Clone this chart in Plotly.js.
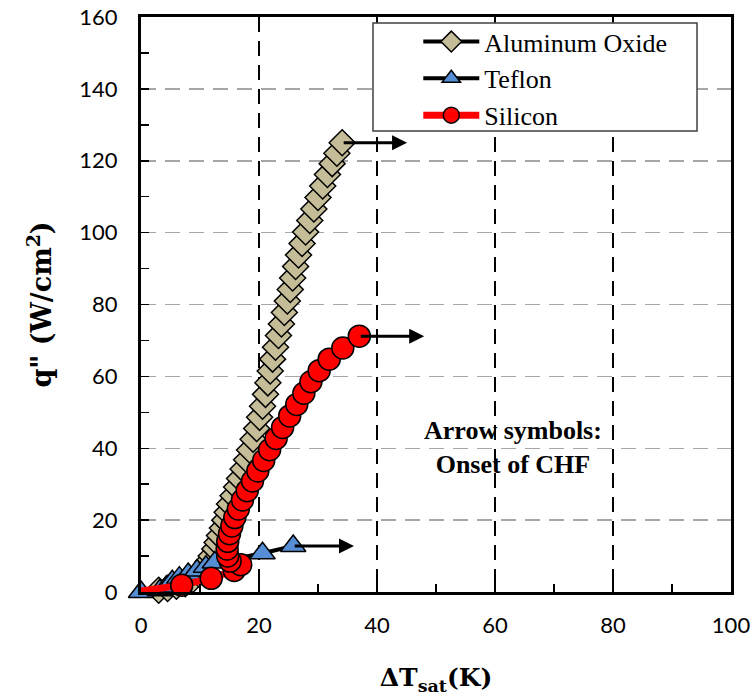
<!DOCTYPE html>
<html>
<head>
<meta charset="utf-8">
<script src="https://cdn.plot.ly/plotly-3.0.1.min.js"></script>
<style>html,body{margin:0;padding:0;background:#fff;}#chart{width:754px;height:700px;}</style>
</head>
<body>
<div id="chart"></div>
<script>
// ---- Data ----
const aluminaX = [3, 4.5, 6, 7.5, 8.8, 9.8, 10.8, 11.4, 11.9, 12.5, 12.9, 13.3, 13.8, 14.2, 14.6, 15.0, 15.6, 16.2, 16.7, 17.3, 17.9, 18.4, 19.0, 19.6, 20.1, 20.6, 21.1, 21.5, 21.9, 22.3, 22.8, 23.3, 23.8, 24.3, 24.8, 25.3, 25.7, 26.2, 26.7, 27.3, 27.9, 28.6, 29.3, 30.0, 30.8, 31.6, 32.4, 33.2, 34.1];
const aluminaY = [0.5, 1, 1.6, 2.3, 3.5, 5, 6.8, 8.5, 10, 12, 13.8, 15.7, 17.8, 20, 22.2, 24.5, 26.8, 29.2, 31.6, 34.2, 36.8, 39.5, 42.5, 45.5, 48.6, 51.7, 55, 58.2, 61.5, 64.8, 68.1, 71.4, 74.6, 77.8, 81, 84.2, 87.4, 90.6, 93.8, 97, 100.2, 103.4, 106.6, 109.8, 113, 116.2, 119.2, 122.1, 125];

const teflonX = [0, 3.2, 4.3, 5.3, 6.5, 8, 9.5, 11, 12.5, 20.6, 25.8];
const teflonY = [0, 0.5, 1.5, 3, 4, 5, 6, 7, 8.2, 10.8, 12.8];

const siliconX = [0, 6.9, 11.9, 15.8, 16.9, 15.1, 14.7, 14.6, 14.7, 15.0, 15.4, 15.9, 16.5, 17.2, 18.0, 18.9, 19.8, 20.8, 21.8, 22.9, 24.0, 25.2, 26.4, 27.6, 28.8, 30.2, 31.9, 34.2, 37.0];
const siliconY = [0.3, 1.9, 3.8, 6.0, 7.6, 8.6, 10.0, 12.0, 14.1, 16.2, 18.4, 20.7, 23.1, 25.6, 28.2, 30.9, 33.7, 36.6, 39.6, 42.7, 45.8, 49.0, 52.2, 55.3, 58.5, 61.6, 64.8, 67.9, 71.2];

// Onset of CHF arrows: start (last point) and end x of each arrow
const chfStartX = [34.1, 37.0, 25.8];
const chfStartY = [125, 71.2, 12.8];
const chfEndX = [45.1, 48.0, 36.1];

const xTicks = [0, 20, 40, 60, 80, 100];
const yTicks = [0, 20, 40, 60, 80, 100, 120, 140, 160];

const seriesNames = ['Aluminum Oxide', 'Teflon', 'Silicon'];

// ---- Traces ----
const siliconOpacity = siliconX.map((_, i) => (i === 0 ? 0 : 1));

const traces = [
  {
    x: aluminaX, y: aluminaY, name: seriesNames[0], type: 'scatter', mode: 'lines+markers', cliponaxis: false,
    line: {color: '#000000', width: 4},
    marker: {symbol: 'diamond', size: 20, color: '#C4BD97', line: {color: '#000000', width: 1.5}}
  },
  {
    x: teflonX, y: teflonY, name: seriesNames[1], type: 'scatter', mode: 'lines+markers', cliponaxis: false,
    line: {color: '#000000', width: 4},
    marker: {symbol: 'triangle-up', size: 22, color: '#558ED5', line: {color: '#000000', width: 1.5}}
  },
  {
    x: siliconX, y: siliconY, name: seriesNames[2], type: 'scatter', mode: 'lines+markers', cliponaxis: false,
    line: {color: '#FF0000', width: 7},
    marker: {symbol: 'circle', size: 22, color: '#FF0000', opacity: siliconOpacity, line: {color: '#000000', width: 1.5}}
  }
];

const annotations = chfStartX.map((sx, i) => ({
  x: chfEndX[i], y: chfStartY[i], ax: sx, ay: chfStartY[i],
  xref: 'x', yref: 'y', axref: 'x', ayref: 'y',
  text: '', showarrow: true, arrowhead: 2, arrowsize: 1, arrowwidth: 3, arrowcolor: '#000000'
}));
annotations.push({
  x: 63, y: 40.3, xref: 'x', yref: 'y', showarrow: false,
  text: '<b>Arrow symbols:</b><br><b>Onset of CHF</b>',
  font: {family: 'Liberation Serif, Times New Roman, serif', size: 26, color: '#000000'},
  align: 'center'
});

const layout = {
  width: 754, height: 700,
  margin: {l: 141, r: 23, t: 17, b: 108},
  paper_bgcolor: '#ffffff', plot_bgcolor: '#ffffff',
  showlegend: true,
  legend: {
    x: 0.470, y: 0.998, xanchor: 'left', yanchor: 'top',
    bgcolor: 'rgba(0,0,0,0)', borderwidth: 0,
    itemwidth: 56,
    font: {family: 'Liberation Serif, Times New Roman, serif', size: 26, color: '#000000'}
  },
  shapes: [{
    type: 'rect', xref: 'paper', yref: 'paper', layer: 'above',
    x0: 0.3932, x1: 0.9424, y0: 0.8017, y1: 0.9896,
    fillcolor: '#ffffff', line: {color: '#404040', width: 1.5}
  }],
  xaxis: {
    range: [0, 100], tickvals: xTicks, ticktext: xTicks.map(String),
    showline: true, linecolor: '#000000', linewidth: 3, mirror: true,
    ticks: 'inside', ticklen: 8, tickwidth: 1.5, tickcolor: '#000000',
    minor: {dtick: 10, ticks: 'inside', ticklen: 8, tickwidth: 1.5, tickcolor: '#000000', showgrid: false},
    showgrid: true, gridcolor: '#000000', gridwidth: 1.5, griddash: '15px,9px',
    zeroline: false, automargin: false,
    ticklabelstandoff: 12,
    tickfont: {family: 'Lato, Open Sans, sans-serif', size: 22, color: '#000000'},
    title: {text: '<b>ΔT<sub>sat</sub>(K)</b>', standoff: 32,
      font: {family: 'DejaVu Serif, serif', size: 25, color: '#000000'}}
  },
  yaxis: {
    range: [0, 160], tickvals: yTicks, ticktext: yTicks.map(String),
    showline: true, linecolor: '#000000', linewidth: 3, mirror: true,
    ticks: 'inside', ticklen: 8, tickwidth: 1.5, tickcolor: '#000000',
    minor: {dtick: 10, ticks: 'inside', ticklen: 8, tickwidth: 1.5, tickcolor: '#000000', showgrid: false},
    showgrid: true, gridcolor: '#A6A6A6', gridwidth: 1.5, griddash: '15px,9px',
    zeroline: false, automargin: false,
    ticklabelstandoff: 16,
    tickfont: {family: 'Lato, Open Sans, sans-serif', size: 22, color: '#000000'},
    title: {text: '<b>q" (W/cm<sup>2</sup>)</b>', standoff: 20,
      font: {family: 'DejaVu Serif, serif', size: 27, color: '#000000'}}
  },
  annotations: annotations
};

Plotly.newPlot('chart', traces, layout, {displayModeBar: false, staticPlot: true});
</script>
</body>
</html>
